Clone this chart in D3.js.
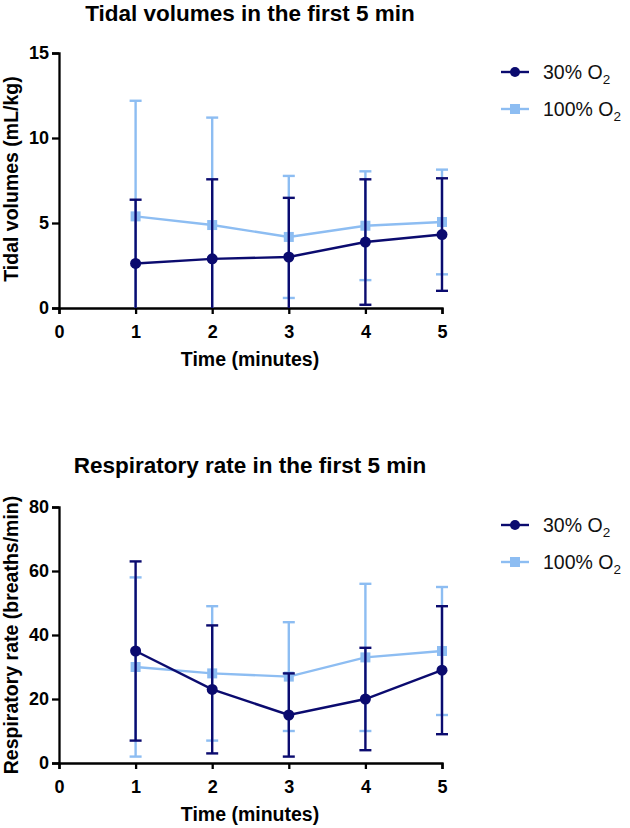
<!DOCTYPE html>
<html><head><meta charset="utf-8">
<script src="https://cdn.jsdelivr.net/npm/d3@7"></script>
<style>body{margin:0;background:#fff}svg{display:block}text{font-family:"Liberation Sans",Arial,sans-serif}</style>
</head><body><svg id="c" width="630" height="828"></svg>
<script>
const times = [1, 2, 3, 4, 5];
const seriesNames = ["30% O", "100% O"];
// Tidal volumes (mL/kg): mean and SD
const tidal30Mean = [2.62, 2.89, 3.0, 3.88, 4.32];
const tidal30SD   = [3.75, 4.68, 3.48, 3.69, 3.31];
const tidal100Mean = [5.39, 4.88, 4.18, 4.84, 5.06];
const tidal100SD   = [6.80, 6.32, 3.59, 3.20, 3.08];
// Respiratory rate (breaths/min): mean and SD
const resp30Mean = [35, 23, 15, 20, 29];
const resp30SD   = [28, 20, 13, 16, 20];
const resp100Mean = [30, 28, 27, 33, 35];
const resp100SD   = [28, 21, 17, 23, 20];
const xTicks = [0, 1, 2, 3, 4, 5];
const tidalTicks = [0, 5, 10, 15];
const respTicks = [0, 20, 40, 60, 80];

const DARK = "#0b0b6f", LIGHT = "#8dbdf2";
const svg = d3.select("#c");

function panel(o) {
  const g = svg.append("g");
  const x = d3.scaleLinear().domain([0, 5]).range([59, 442]);
  const y = d3.scaleLinear().domain([0, o.ymax]).range([o.y0, o.y1]);
  g.append("text").attr("x", 250).attr("y", o.titleY).attr("text-anchor", "middle")
    .attr("font-size", 22.5).attr("font-weight", "bold").text(o.title);
  const xa = g.append("g").attr("transform", `translate(0,${o.y0})`)
    .call(d3.axisBottom(x).tickValues(xTicks).tickSize(6).tickPadding(11).tickFormat(d3.format("d")));
  const ya = g.append("g").attr("transform", `translate(59,0)`)
    .call(d3.axisLeft(y).tickValues(o.ticks).tickSize(7).tickPadding(3).tickFormat(d3.format("d")));
  [xa, ya].forEach(a => {
    a.selectAll("path").attr("stroke", "#000").attr("stroke-width", 2.3);
    a.selectAll("line").attr("stroke", "#000").attr("stroke-width", 2.3);
    a.selectAll("text").attr("font-size", 18).attr("font-weight", "bold").attr("fill", "#000")
      .style("font-family", '"Liberation Sans",Arial,sans-serif');
  });
  g.append("text").attr("x", 250).attr("y", o.y0 + 58).attr("text-anchor", "middle")
    .attr("font-size", 19.5).attr("font-weight", "bold").text("Time (minutes)");
  g.append("text").attr("transform", `translate(18,${o.ytitleY}) rotate(-90)`).attr("text-anchor", "middle")
    .attr("font-size", 19.5).attr("font-weight", "bold").text(o.ytitle);

  const series = [
    {m: o.m100, sd: o.sd100, c: LIGHT, sq: true, w: 2.4},
    {m: o.m30, sd: o.sd30, c: DARK, sq: false, w: 2.4}
  ];
  series.forEach(s => {
    const sg = g.append("g");
    times.forEach((t, i) => {
      const hi = s.m[i] + s.sd[i], lo = Math.max(0, s.m[i] - s.sd[i]);
      sg.append("line").attr("x1", x(t)).attr("x2", x(t)).attr("y1", y(hi)).attr("y2", y(lo))
        .attr("stroke", s.c).attr("stroke-width", s.w);
      sg.append("line").attr("x1", x(t) - 6).attr("x2", x(t) + 6).attr("y1", y(hi)).attr("y2", y(hi))
        .attr("stroke", s.c).attr("stroke-width", s.w);
      if (s.m[i] - s.sd[i] >= 0)
        sg.append("line").attr("x1", x(t) - 6).attr("x2", x(t) + 6).attr("y1", y(lo)).attr("y2", y(lo))
          .attr("stroke", s.c).attr("stroke-width", s.w);
    });
    sg.append("path").datum(times.map((t, i) => [t, s.m[i]]))
      .attr("d", d3.line().x(d => x(d[0])).y(d => y(d[1])))
      .attr("fill", "none").attr("stroke", s.c).attr("stroke-width", s.w);
    times.forEach((t, i) => {
      if (s.sq) sg.append("rect").attr("x", x(t) - 5).attr("y", y(s.m[i]) - 5).attr("width", 10).attr("height", 10).attr("fill", s.c);
      else sg.append("circle").attr("cx", x(t)).attr("cy", y(s.m[i])).attr("r", 5.5).attr("fill", s.c);
    });
  });
  const leg = [{n: seriesNames[0], c: DARK, sq: false, w: 2.4}, {n: seriesNames[1], c: LIGHT, sq: true, w: 2.4}];
  leg.forEach((l, i) => {
    const ly = o.legY + i * 37;
    g.append("line").attr("x1", 501).attr("x2", 529).attr("y1", ly).attr("y2", ly).attr("stroke", l.c).attr("stroke-width", l.w);
    if (l.sq) g.append("rect").attr("x", 510).attr("y", ly - 5).attr("width", 10).attr("height", 10).attr("fill", l.c);
    else g.append("circle").attr("cx", 515).attr("cy", ly).attr("r", 5).attr("fill", l.c);
    const tx = g.append("text").attr("x", 543).attr("y", ly + 7).attr("font-size", 19.5).attr("fill", "#111");
    tx.append("tspan").text(l.n);
    tx.append("tspan").attr("font-size", 13.5).attr("dy", 5).text("2");
  });
}

panel({title: "Tidal volumes in the first 5 min", titleY: 21, y0: 308, y1: 53, ymax: 15, ticks: tidalTicks,
  ytitle: "Tidal volumes (mL/kg)", ytitleY: 179, m30: tidal30Mean, sd30: tidal30SD, m100: tidal100Mean, sd100: tidal100SD, legY: 72});
panel({title: "Respiratory rate in the first 5 min", titleY: 473, y0: 763, y1: 507, ymax: 80, ticks: respTicks,
  ytitle: "Respiratory rate (breaths/min)", ytitleY: 635, m30: resp30Mean, sd30: resp30SD, m100: resp100Mean, sd100: resp100SD, legY: 525});
</script></body></html>
